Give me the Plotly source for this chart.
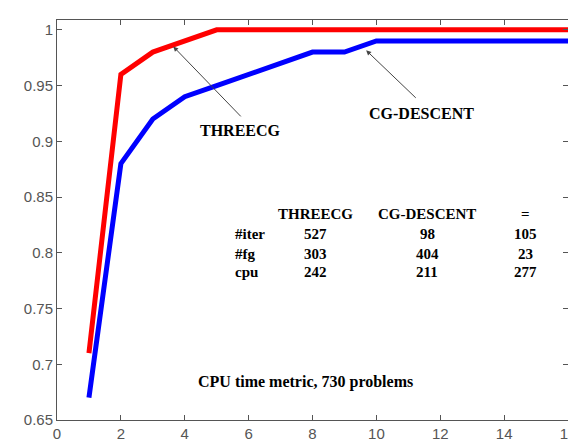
import plotly.graph_objects as go

x = list(range(1, 17))
threecg = [0.71, 0.96, 0.98, 0.99, 1.0, 1.0, 1.0, 1.0, 1.0, 1.0, 1.0, 1.0, 1.0, 1.0, 1.0, 1.0]
cgdescent = [0.67, 0.88, 0.92, 0.94, 0.95, 0.96, 0.97, 0.98, 0.98, 0.99, 0.99, 0.99, 0.99, 0.99, 0.99, 0.99]

col_headers = ["THREECG", "CG-DESCENT", "="]
row_labels = ["#iter", "#fg", "cpu"]
table_values = [[527, 98, 105], [303, 404, 23], [242, 211, 277]]
caption = "CPU time metric, 730 problems"

fig = go.Figure()
fig.add_trace(go.Scatter(x=x, y=threecg, mode="lines", line=dict(color="#ff0000", width=5), name="THREECG"))
fig.add_trace(go.Scatter(x=x, y=cgdescent, mode="lines", line=dict(color="#0000ff", width=5), name="CG-DESCENT"))

lfont = dict(family="Liberation Serif", size=16, color="black")
tfont = dict(family="Liberation Serif", size=15, color="black")
ann = []
# curve labels with arrows
ann.append(dict(x=3.64, y=0.985, ax=5.8, ay=0.921, xref="x", yref="y", axref="x", ayref="y",
                showarrow=True, arrowhead=2, arrowsize=1, arrowwidth=1, arrowcolor="#444", text=""))
ann.append(dict(x=5.73, y=0.9096, xref="x", yref="y", text="<b>THREECG</b>", showarrow=False, font=lfont))
ann.append(dict(x=9.68, y=0.9816, ax=11.28, ay=0.9377, xref="x", yref="y", axref="x", ayref="y",
                showarrow=True, arrowhead=2, arrowsize=1, arrowwidth=1, arrowcolor="#444", text=""))
ann.append(dict(x=11.4, y=0.9246, xref="x", yref="y", text="<b>CG-DESCENT</b>", showarrow=False, font=lfont))

col_x = [8.1, 11.6, 14.67]
header_y = 0.8351
row_y = [0.8167, 0.7991, 0.7825]
for cx, h in zip(col_x, col_headers):
    ann.append(dict(x=cx, y=header_y, xref="x", yref="y", text="<b>%s</b>" % h, showarrow=False, font=tfont))
for ry, lab, vals in zip(row_y, row_labels, table_values):
    ann.append(dict(x=5.52, y=ry, xref="x", yref="y", text="<b>%s</b>" % lab, showarrow=False,
                    xanchor="left", font=tfont))
    for cx, v in zip(col_x, vals):
        ann.append(dict(x=cx, y=ry, xref="x", yref="y", text="<b>%d</b>" % v, showarrow=False, font=tfont))
ann.append(dict(x=4.35, y=0.684, xref="x", yref="y", text="<b>%s</b>" % caption, showarrow=False,
                xanchor="left", font=lfont))

axis_common = dict(showline=True, linecolor="#555", linewidth=1, mirror="ticks", ticks="inside",
                   ticklen=5, tickcolor="#555", showgrid=False, zeroline=False,
                   tickfont=dict(family="Liberation Sans", size=15, color="#555"))
fig.update_layout(
    width=576, height=442,
    margin=dict(l=49, r=8, t=12, b=21),
    paper_bgcolor="white", plot_bgcolor="white",
    showlegend=False,
    annotations=ann,
    xaxis=dict(range=[0, 16], tickvals=list(range(0, 17, 2)), **axis_common),
    yaxis=dict(range=[0.65, 1.0088], tickvals=[0.65, 0.7, 0.75, 0.8, 0.85, 0.9, 0.95, 1.0],
               ticktext=["0.65", "0.7", "0.75", "0.8", "0.85", "0.9", "0.95", "1"], **axis_common),
)
fig.write_html("out.html")
